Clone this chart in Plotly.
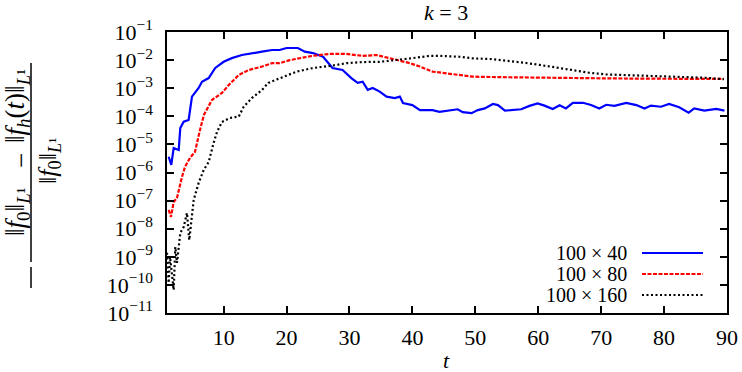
import plotly.graph_objects as go

# values; the y data is stored as log10 of the relative error
t_40 = [1.27, 1.68, 2.06, 2.86, 3.11, 3.65, 4.44, 4.97, 6.03, 6.56, 7.62, 8.67, 10.0, 11.3, 12.9, 14.5,
        16.1, 17.7, 18.9, 20.0, 21.8, 22.9, 24.2, 25.8, 26.9, 27.3, 28.9, 30.3, 31.3, 32.1, 32.9, 33.7,
        34.8, 35.9, 37.2, 38.0, 38.5, 40.0, 41.2, 43.2, 44.3, 45.9, 47.2, 48.0, 49.4, 50.4, 51.5, 52.8,
        53.6, 54.7, 55.7, 57.3, 58.6, 59.9, 61.0, 62.3, 63.4, 64.4, 65.5, 67.1, 68.4, 69.7, 70.8, 72.1,
        74.0, 75.6, 76.9, 77.9, 79.5, 80.8, 82.4, 83.9, 84.8, 86.4, 88.3, 89.6]
log_40 = [-5.44, -5.73, -5.13, -5.2, -4.42, -4.19, -4.13, -3.3, -2.99, -2.77, -2.64, -2.28, -2.06, -1.93, -1.82, -1.75,
          -1.70, -1.64, -1.64, -1.57, -1.57, -1.70, -1.75, -1.88, -2.17, -2.28, -2.35, -2.64, -2.81, -2.77, -3.06, -2.99,
          -3.12, -3.30, -3.35, -3.30, -3.53, -3.60, -3.78, -3.78, -3.84, -3.80, -3.75, -3.85, -3.89, -3.78, -3.72, -3.56,
          -3.60, -3.80, -3.78, -3.75, -3.63, -3.54, -3.62, -3.74, -3.61, -3.72, -3.52, -3.52, -3.60, -3.72, -3.59, -3.63,
          -3.52, -3.60, -3.72, -3.62, -3.66, -3.56, -3.68, -3.87, -3.72, -3.80, -3.74, -3.80]

t_80 = [1.27, 1.63, 2.06, 2.59, 3.38, 3.86, 4.65, 5.44, 6.24, 6.87, 8.14, 9.73, 10.8, 12.4, 14.0, 16.1,
        17.7, 18.9, 20.5, 22.0, 24.1, 26.8, 29.5, 32.1, 34.3, 36.9, 39.6, 41.2, 43.2, 44.3, 47.0, 49.6,
        54.9, 60.2, 65.5, 70.8, 76.0, 81.4, 86.7, 89.5]
log_80 = [-7.33, -7.58, -7.05, -6.9, -6.16, -5.8, -5.48, -5.27, -4.49, -3.95, -3.42, -3.17, -2.89, -2.53, -2.35, -2.23,
          -2.11, -2.11, -2.0, -1.93, -1.85, -1.78, -1.78, -1.85, -1.82, -1.96, -2.11, -2.23, -2.41, -2.44, -2.53, -2.59,
          -2.61, -2.63, -2.65, -2.65, -2.66, -2.66, -2.67, -2.67]

t_160 = [1.0, 1.27, 1.48, 2.06, 2.32, 2.59, 3.11, 3.65, 4.17, 4.54, 5.24, 6.03, 6.83, 7.62, 8.41, 8.94,
         9.73, 11.0, 12.4, 13.2, 14.5, 16.1, 17.1, 18.9, 21.6, 24.2, 26.9, 29.5, 32.1, 34.8, 37.5, 40.0,
         42.7, 44.3, 47.5, 49.6, 52.3, 54.9, 57.6, 60.2, 62.9, 65.5, 68.1, 70.8, 73.4, 76.0, 81.4, 86.7, 89.5]
log_160 = [-8.86, -9.93, -9.0, -10.18, -8.65, -9.22, -8.15, -7.94, -7.44, -8.4, -6.98, -6.37, -5.91, -5.63, -4.95, -4.56,
           -4.2, -4.06, -4.01, -3.66, -3.35, -3.06, -2.81, -2.64, -2.41, -2.28, -2.21, -2.11, -2.07, -2.06, -2.0, -1.93,
           -1.85, -1.85, -1.88, -1.94, -1.96, -2.02, -2.09, -2.17, -2.27, -2.36, -2.45, -2.51, -2.53, -2.56, -2.59, -2.63, -2.68]

series_names = ['100 × 40', '100 × 80', '100 × 160']
x_ticks = [10, 20, 30, 40, 50, 60, 70, 80, 90]
y_exponents = [-11, -10, -9, -8, -7, -6, -5, -4, -3, -2, -1]

FONT = 'Liberation Serif'
FS = 22
W, H = 742, 372
L, R, T, B = 167, 15, 32, 59
pw, ph = W - L - R, H - T - B


def px(x):
  return (x - L) / pw


def py(y):
  return (H - B - y) / ph


def txt(fig, x, y, text, angle=0, anchor='center', size=FS):
  fig.add_annotation(x=px(x), y=py(y), xref='paper', yref='paper', text=text, textangle=angle,
                     xanchor=anchor, yanchor='middle', showarrow=False,
                     font=dict(family=FONT, size=size, color='black'))


def make_figure():
  fig = go.Figure()
  styles = [dict(color='#0000ff', width=2.2),
            dict(color='#ff0000', width=2.2, dash='4px,1.5px'),
            dict(color='black', width=2.2, dash='2px,2.5px')]
  for t, lg, name, st in zip([t_40, t_80, t_160], [log_40, log_80, log_160], series_names, styles):
    fig.add_trace(go.Scatter(x=t, y=[10 ** v for v in lg], mode='lines', line=st, name=name, showlegend=False))

  # hand-made key: text on the left, line sample on the right (gnuplot style)
  for i, (name, st) in enumerate(zip(series_names, styles)):
    yrow = 253 + 21 * i
    txt(fig, 629, yrow, name, anchor='right', size=20)
    fig.add_shape(type='line', xref='paper', yref='paper', x0=px(642), x1=px(703), y0=py(yrow), y1=py(yrow),
                  line=st)

  # y label:  - (||f0|| - ||fh(t)||) / ||f0||
  norm0 = '‖<i>f</i><sub>0</sub>‖<sub><i>L</i>¹</sub>'
  normh = '‖<i>f<sub>h</sub></i>(<i>t</i>)‖<sub><i>L</i>¹</sub>'
  txt(fig, 17, 212, norm0, angle=-90, size=27)
  txt(fig, 21, 161, '−', angle=-90, size=27)
  txt(fig, 17, 106, normh, angle=-90, size=27)
  txt(fig, 49, 161, norm0, angle=-90, size=26)
  fig.add_shape(type='line', xref='paper', yref='paper', x0=px(31), x1=px(31), y0=py(63), y1=py(262),
                line=dict(color='black', width=1.5))
  fig.add_shape(type='line', xref='paper', yref='paper', x0=px(31), x1=px(31), y0=py(267), y1=py(288),
                line=dict(color='black', width=1.5))

  # title and x label
  txt(fig, 446, 12, '<i>k</i> = 3')
  txt(fig, 446, 361, '<i>t</i>')

  fig.update_xaxes(range=[1, 90], showline=True, linecolor='black', linewidth=1.5, mirror='ticks',
                   ticks='inside', ticklen=7, tickwidth=1.5, tickcolor='black',
                   tickmode='array', tickvals=x_ticks, ticktext=[str(v) for v in x_ticks],
                   tickfont=dict(family=FONT, size=FS, color='black'), ticklabelstandoff=4,
                   showgrid=False, zeroline=False, automargin=False)
  fig.update_yaxes(type='log', range=[-11, -1], showline=True, linecolor='black', linewidth=1.5, mirror='ticks',
                   ticks='inside', ticklen=7, tickwidth=1.5, tickcolor='black',
                   tickmode='array', tickvals=[10 ** e for e in y_exponents],
                   ticktext=['10<sup>−%d</sup>' % -e for e in y_exponents],
                   tickfont=dict(family=FONT, size=FS, color='black'), ticklabelstandoff=8,
                   showgrid=False, zeroline=False, automargin=False)
  fig.update_layout(margin=dict(l=L, r=R, t=T, b=B), width=W, height=H,
                    plot_bgcolor='white', paper_bgcolor='white', showlegend=False)
  return fig


fig = make_figure()
# the page body has an 8px default margin; drop it so the chart sits at the window corner
fig.write_html("out.html", config={'displayModeBar': False},
               post_script="document.body.style.margin='0';")
